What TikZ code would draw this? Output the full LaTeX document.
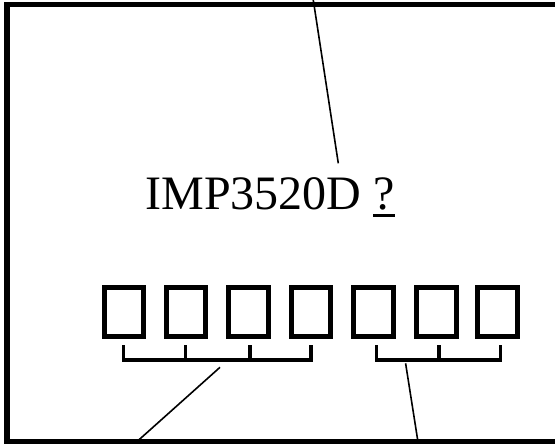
\documentclass[tikz,border=0pt]{standalone}
\usepackage{fontspec}
\setmainfont{Liberation Serif}
\newcommand{\qmarkul}{{\setbox0\hbox{?}\rlap{\rule[-7.5pt]{\wd0}{2.6pt}}?}}
\begin{document}
\begin{tikzpicture}[x=1pt,y=-1pt,
  cell/.style={draw=black,line width=5pt,rectangle,inner sep=0pt,outer sep=0pt,minimum width=39.3pt,minimum height=49.3pt},
  bracket/.style={draw=black,line width=3.2pt},
  leader/.style={draw=black,line width=1.6pt},
  frame/.style={draw=black,line width=5.5pt},
  label/.style={font=\fontsize{48}{58}\selectfont,inner sep=0pt,anchor=base west}]
\useasboundingbox (0,0) rectangle (555,444);
% cells
\foreach \i/\x in {1/124,2/186.3,3/248.6,4/310.9,5/373.6,6/436.6,7/497.5}
  \node[cell] (b\i) at (\x,312.2) {};
% label
\node[label] (lbl) at (145.2,209) {IMP3520D \qmarkul};
% bracket coordinates
\coordinate (la) at (123.7,345); \coordinate (lb) at (185.5,345);
\coordinate (lc) at (250,345);   \coordinate (ld) at (311,345);
\coordinate (ra) at (376.7,345); \coordinate (rb) at (439,345);
\coordinate (rc) at (500.7,345);
\path[bracket] (la) -- (la |- 0,360) -- (ld |- 0,360) -- (ld);
\path[bracket] (lb) -- (lb |- 0,360);
\path[bracket] (lc) -- (lc |- 0,360);
\path[bracket] (ra) -- (ra |- 0,360) -- (rc |- 0,360) -- (rc);
\path[bracket] (rb) -- (rb |- 0,360);
% leaders
\coordinate (t0) at (312.5,-5); \coordinate (t1) at (338.3,163.3);
\coordinate (l0) at (220,367.3); \coordinate (l1) at (136.5,442);
\coordinate (r0) at (405.6,363.3); \coordinate (r1) at (418,442);
\path[leader] (t0) -- (t1);
\path[leader] (l0) -- (l1);
\path[leader] (r0) -- (r1);
% frame
\coordinate (f1) at (565,4.7); \coordinate (f2) at (7,4.7);
\coordinate (f3) at (7,441.7); \coordinate (f4) at (565,441.7);
\path[frame] (f1) -- (f2) -- (f3) -- (f4);
\end{tikzpicture}
\end{document}
